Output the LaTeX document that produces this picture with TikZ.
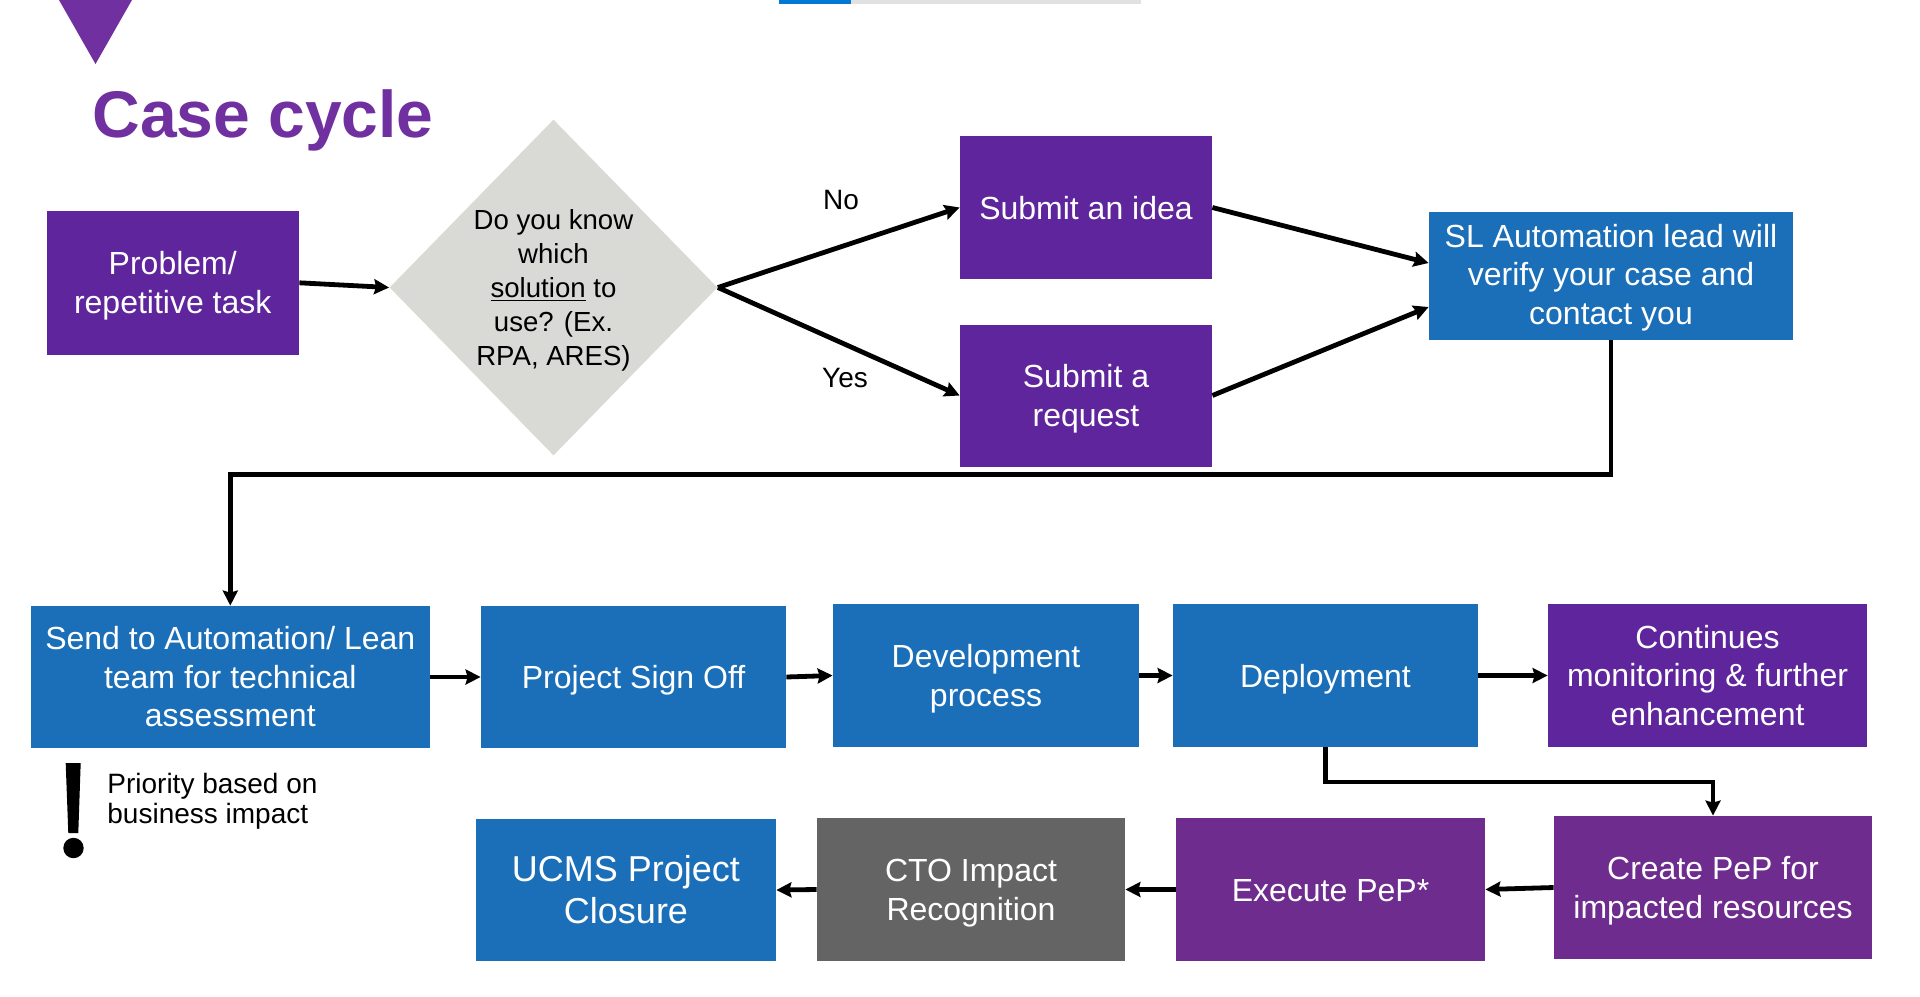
\documentclass[tikz,border=0pt]{standalone}
\usepackage{fontspec}
\setmainfont{Liberation Sans}
\usetikzlibrary{shapes.geometric,arrows.meta,calc}
\definecolor{pbox}{HTML}{5E259C}
\definecolor{pbox2}{HTML}{6E2C8E}
\definecolor{bbox}{HTML}{1B6FB8}
\definecolor{gbox}{HTML}{646464}
\definecolor{dgray}{HTML}{D9D9D6}
\definecolor{ttl}{HTML}{7030A0}
\definecolor{topblue}{HTML}{0078D4}
\definecolor{topgray}{HTML}{E1E1E1}
\begin{document}
\begin{tikzpicture}[x=0.5pt,y=-0.5pt,
  box/.style={rectangle, inner sep=0pt, text=white, align=center, font=\fontsize{16}{19.2}\selectfont},
  bl/.style={text height=#1pt, text depth=0pt},
  arr/.style={line width=2.4pt, -{Stealth[length=7.5pt,width=7.5pt,inset=1pt]}},
  lbl/.style={font=\fontsize{14}{16.8}\selectfont, text=black, inner sep=0pt}]
\useasboundingbox (0,0) rectangle (1920,996);
% top strip and ornament
\fill[topblue] (779,0) rectangle (851,4);
\fill[topgray] (851,0) rectangle (1141,4);
\fill[ttl] (59,0) -- (132,0) -- (95.5,64) -- cycle;
\node[anchor=base west, inner sep=0pt, text=ttl, font=\fontsize{33}{40}\selectfont\bfseries] (title) at (92,137) {Case cycle};
% row 1
\node[box, bl=30.2, fill=pbox, minimum width=126.25pt, minimum height=72.2pt] (prob) at (172.75,282.8) {Problem/\\repetitive task};
\node[diamond, fill=dgray, inner sep=0pt, minimum width=164pt, minimum height=168pt] (q) at (553.5,287.5) {};
\node[align=center, inner sep=0pt, font=\fontsize{13.8}{16.9}\selectfont, bl=77.5] (qt) at (q.center) {Do you know\\which\\\underline{solution} to\\use? (Ex.\\RPA, ARES)};
\node[lbl] (no) at (841,200) {No};
\node[lbl] (yes) at (845,378) {Yes};
\node[box, bl=11.6, fill=pbox, minimum width=126pt, minimum height=71.5pt] (idea) at (1086,207.5) {Submit an idea};
\node[box, bl=30.5, fill=pbox, minimum width=126pt, minimum height=71pt] (req) at (1086,395.5) {Submit a\\request};
\node[box, bl=48, fill=bbox, minimum width=182pt, minimum height=64pt] (sl) at (1611,276) {SL Automation lead will\\verify your case and\\contact you};
% row 2
\node[box, bl=49.5, fill=bbox, minimum width=199.7pt, minimum height=71pt] (send) at (230.3,677) {Send to Automation/ Lean\\team for technical\\assessment};
\node[box, bl=11.6, fill=bbox, minimum width=152.5pt, minimum height=71pt] (signoff) at (633.5,677) {Project Sign Off};
\node[box, bl=30.5, fill=bbox, minimum width=153pt, minimum height=71.5pt] (dev) at (986,675.5) {Development\\process};
\node[box, bl=11.6, fill=bbox, minimum width=152.5pt, minimum height=71.5pt] (deploy) at (1325.5,675.5) {Deployment};
\node[box, bl=49.5, fill=pbox, minimum width=159.5pt, minimum height=71.5pt] (cont) at (1707.5,675.5) {Continues\\monitoring \& further\\enhancement};
% note
\fill[black] (65.7,763) -- (80.7,763) -- (78.3,833) -- (68.3,833) -- cycle;
\fill[black] (73.5,848) circle[radius=10.2];
\node[anchor=base west, align=left, inner sep=0pt, font=\fontsize{14}{15}\selectfont] (prio) at (107,823) {Priority based on\\business impact};
% row 3
\node[box, bl=30.5, fill=pbox2, minimum width=159pt, minimum height=71.5pt] (create) at (1713,887.5) {Create PeP for\\impacted resources};
\node[box, bl=11.6, fill=pbox2, minimum width=154.5pt, minimum height=71.5pt] (exec) at (1330.5,889.5) {Execute PeP*};
\node[box, bl=30.5, fill=gbox, minimum width=154pt, minimum height=71.5pt] (cto) at (971,889.5) {CTO Impact\\Recognition};
\node[box, bl=33.5, fill=bbox, minimum width=150pt, minimum height=71pt, font=\fontsize{18}{21}\selectfont] (ucms) at (626,890) {UCMS Project\\Closure};
% connectors
\draw[arr] (prob.east) -- (q.west);
\draw[arr] (q.east) -- (idea.west);
\draw[arr] (q.east) -- (req.west);
\draw[arr] (idea.east) -- ($(sl.west)+(0,-13)$);
\draw[arr] (req.east) -- ($(sl.west)+(0,31)$);
\draw[arr] (sl.south) -- ++(0,134) -| (send.north);
\draw[arr] (send.east) -- (signoff.west);
\draw[arr] (signoff.east) -- (dev.west);
\draw[arr] (dev.east) -- (deploy.west);
\draw[arr] (deploy.east) -- (cont.west);
\draw[arr] (deploy.south) -- ++(0,34.5) -| (create.north);
\draw[arr] (create.west) -- (exec.east);
\draw[arr] (exec.west) -- (cto.east);
\draw[arr] (cto.west) -- (ucms.east);
\end{tikzpicture}
\end{document}
